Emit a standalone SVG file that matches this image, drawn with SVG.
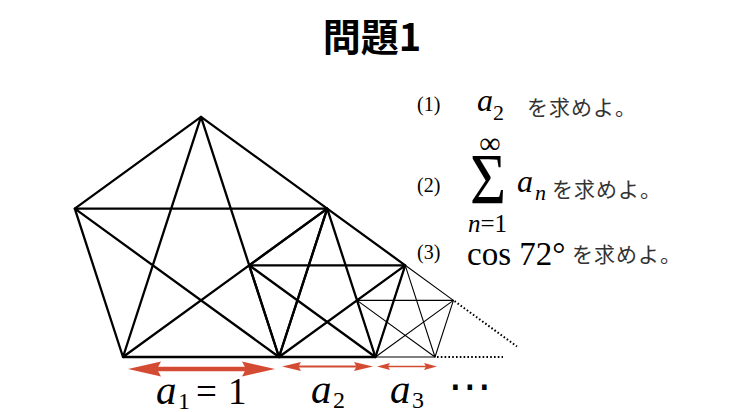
<svg xmlns="http://www.w3.org/2000/svg" width="750" height="412" viewBox="0 0 750 412">
<style>
.thick{stroke:#000;stroke-width:2.3;fill:none;stroke-linejoin:round;stroke-linecap:round}
.thin{stroke:#000;stroke-width:1.1;fill:none;stroke-linejoin:round}
.dotted{stroke:#000;stroke-width:2;stroke-dasharray:1.6 2.2;fill:none}
.red{fill:#d44b33}
.redline{stroke:#d44b33;fill:none}
.it{font-style:italic}
.jp{font-family:'Noto Sans CJK JP',sans-serif;font-size:21px;letter-spacing:1px;fill:#333}
</style>
<rect width="750" height="412" fill="#fff"/>
<g id="title">
<text x="372" y="51" text-anchor="middle" font-family="Noto Sans CJK JP, sans-serif" font-weight="bold" font-size="38" fill="#000">問題1</text>
</g>
<g id="pentagon3">
<polygon class="thin" points="375.41,357 435,357 453.41,300.33 405.21,265.31 357,300.33"/>
<polygon class="thin" points="375.41,357 453.41,300.33 357,300.33 435,357 405.21,265.31"/>
</g>
<g id="pentagon2">
<polygon class="thick" points="279,357 375.41,357 405.21,265.31 327.21,208.64 249.21,265.31"/>
<polygon class="thick" points="279,357 405.21,265.31 249.21,265.31 375.41,357 327.21,208.64"/>
</g>
<g id="pentagon1">
<polygon class="thick" points="123,357 279,357 327.21,208.64 201,116.94 74.79,208.64"/>
<polygon class="thick" points="123,357 327.21,208.64 74.79,208.64 279,357 201,116.94"/>
</g>
<g id="continuation">
<line class="dotted" x1="454.5" y1="301.1" x2="517" y2="346.5"/>
<line class="dotted" x1="437" y1="357" x2="503" y2="357"/>
</g>
<g id="dimensions">
<line class="redline" x1="155" y1="369" x2="248" y2="369" stroke-width="4.5"/>
<polygon class="red" points="128,369 161,361.5 157,369 161,376.5"/>
<polygon class="red" points="275,369 242,361.5 246,369 242,376.5"/>
<line class="redline" x1="298" y1="366.5" x2="357" y2="366.5" stroke-width="2"/>
<polygon class="red" points="282,366.5 301,362 298.5,366.5 301,371"/>
<polygon class="red" points="373,366.5 354,362 356.5,366.5 354,371"/>
<line class="redline" x1="388" y1="366.5" x2="426" y2="366.5" stroke-width="1.5"/>
<polygon class="red" points="377,366.5 390,363 388,366.5 390,370"/>
<polygon class="red" points="437,366.5 424,363 426,366.5 424,370"/>
</g>
<g id="labels" font-family="Liberation Serif, Times New Roman, serif" fill="#000">
<text><tspan class="it" x="156" y="404" font-size="41">a</tspan><tspan x="178" y="409" font-size="24">1</tspan><tspan x="196" y="404" font-size="37">=</tspan><tspan x="228" y="404" font-size="37">1</tspan></text>
<text><tspan class="it" x="311" y="403" font-size="41">a</tspan><tspan x="333" y="408" font-size="24">2</tspan></text>
<text><tspan class="it" x="390" y="403" font-size="41">a</tspan><tspan x="412" y="408" font-size="24">3</tspan></text>
<text x="470" y="401" text-anchor="middle" font-family="DejaVu Sans, sans-serif" font-size="44">⋯</text>
</g>
<g id="question1" font-family="Liberation Serif, Times New Roman, serif" fill="#000">
<text x="417" y="111" font-size="20">(1)</text>
<text><tspan class="it" x="477" y="111" font-size="32">a</tspan><tspan x="493" y="120" font-size="22">2</tspan></text>
<text class="jp" x="527" y="115">を求めよ。</text>
</g>
<g id="question2" font-family="Liberation Serif, Times New Roman, serif" fill="#000">
<text x="417" y="192" font-size="20">(2)</text>
<text x="490" y="153" text-anchor="middle" font-size="30">∞</text>
<text transform="translate(470,203) scale(1,1.16)" x="0" y="0" font-size="62">Σ</text>
<text font-size="25"><tspan class="it" x="468" y="232">n</tspan><tspan>=1</tspan></text>
<text><tspan class="it" x="517" y="192" font-size="32">a</tspan><tspan class="it" x="535" y="200" font-size="22">n</tspan></text>
<text class="jp" x="552" y="197">を求めよ。</text>
</g>
<g id="question3" font-family="Liberation Serif, Times New Roman, serif" fill="#000">
<text x="417" y="259" font-size="20">(3)</text>
<text x="467" y="265" font-size="33">cos 72°</text>
<text class="jp" x="572" y="262">を求めよ。</text>
</g>
</svg>
